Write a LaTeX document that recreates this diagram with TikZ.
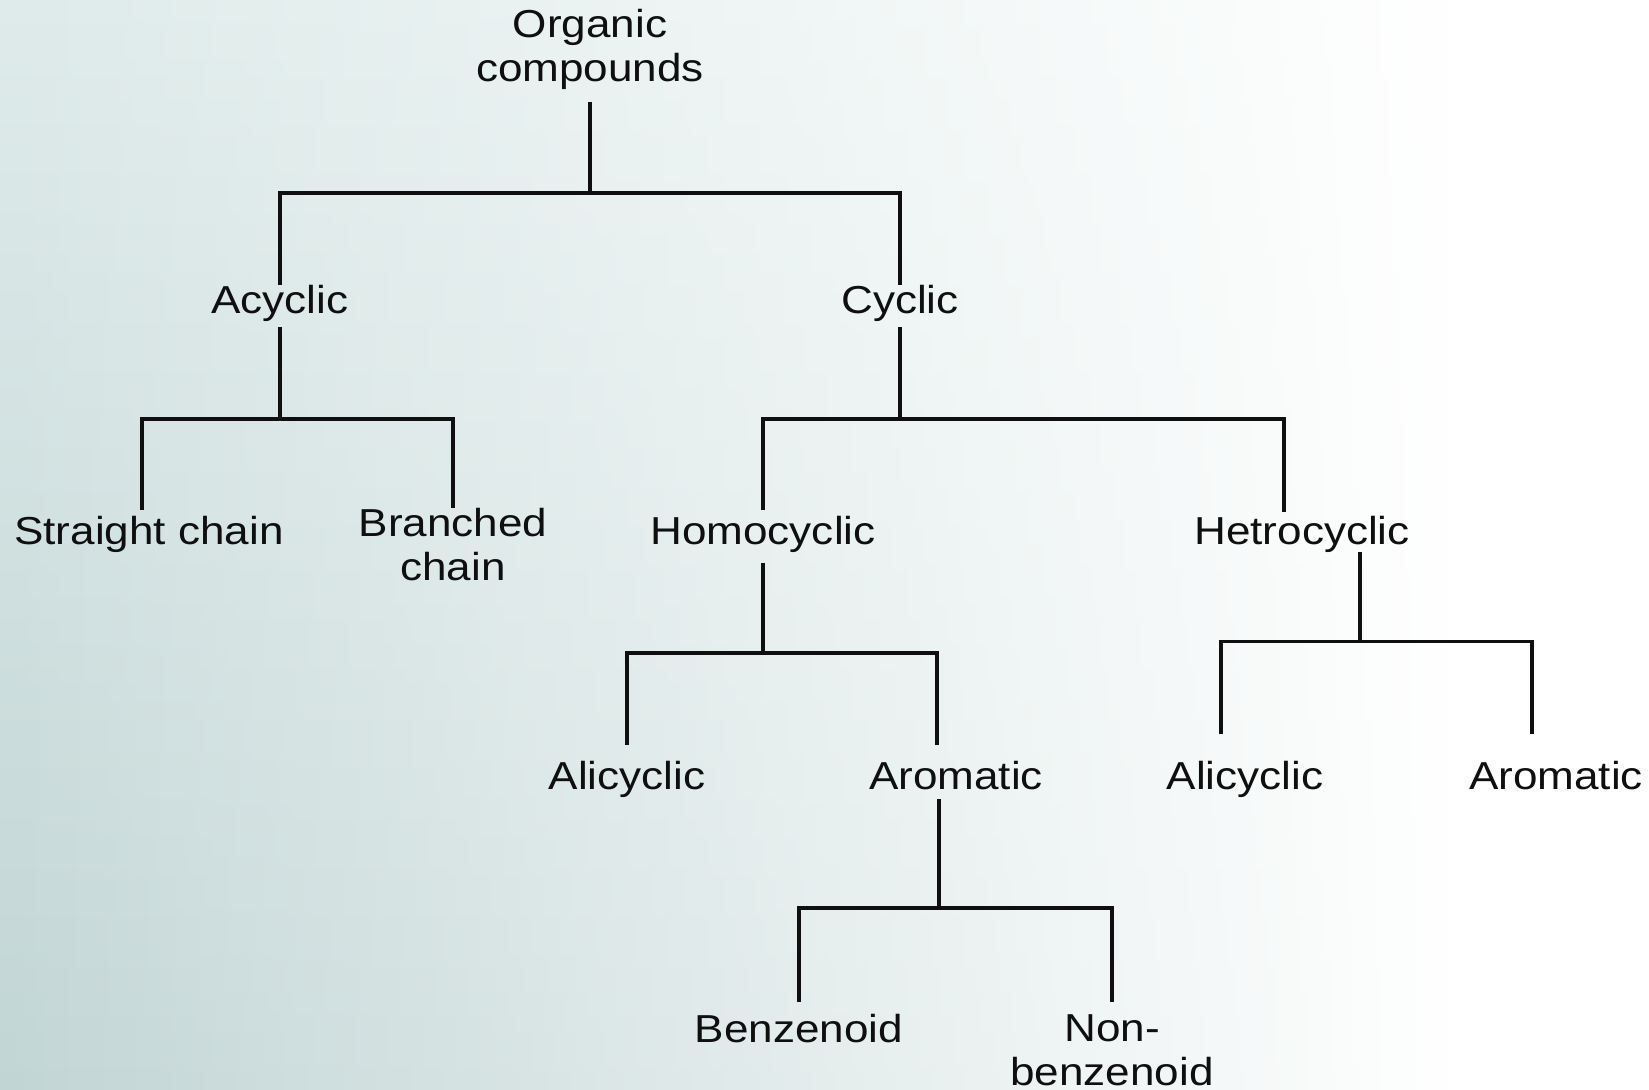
\documentclass[tikz,border=0pt]{standalone}
\usepackage{fontspec}
\setmainfont{Liberation Sans}[FakeStretch=1.13]
\usetikzlibrary{fadings}
\definecolor{bgtop}{RGB}{222,235,234}
\definecolor{bgbot}{RGB}{194,213,213}
\definecolor{ink}{RGB}{15,15,15}
\begin{document}
\begin{tikzpicture}[x=0.5pt,y=-0.5pt,
  lbl/.style={font=\fontsize{19.5}{22}\selectfont, text=ink, inner sep=0pt, anchor=base, align=center},
  edge/.style={draw=ink, line width=1.8pt}]
\useasboundingbox (0,0) rectangle (1649,1090);
\fill[white] (0,0) rectangle (1649,1090);
\shade[top color=bgtop, bottom color=bgbot, path fading=east] (0,0) rectangle (1450,1090);

\node[lbl] (root) at (590,82) {Organic\\compounds};
\node[lbl] (acyc) at (280,314) {Acyclic};
\node[lbl] (cyc) at (900,314) {Cyclic};
\node[lbl] (sc) at (149,545) {Straight chain};
\node[lbl] (branched) at (453,581) {Branched\\chain};
\node[lbl] (homo) at (763,545) {Homocyclic};
\node[lbl] (het) at (1302,545) {Hetrocyclic};
\node[lbl] (aliL) at (627,789) {Alicyclic};
\node[lbl] (aroL) at (956,789) {Aromatic};
\node[lbl] (aliR) at (1245,789) {Alicyclic};
\node[lbl] (aroR) at (1556,789) {Aromatic};
\node[lbl] (benz) at (799,1042) {Benzenoid};
\node[lbl] (nonb) at (1112,1085) {Non-\\benzenoid};

% root
\draw[edge] (root |- 0,102) -- (root |- 0,193) -| (acyc |- 0,285);
\draw[edge] (root |- 0,193) -| (cyc |- 0,285);
% acyclic
\draw[edge] (acyc |- 0,327) -- (acyc |- 0,419) -| (142,510);
\draw[edge] (acyc |- 0,419) -| (branched |- 0,508);
% cyclic
\draw[edge] (cyc |- 0,327) -- (cyc |- 0,419) -| (homo |- 0,510);
\draw[edge] (cyc |- 0,419) -| (1284,512);
% homocyclic
\draw[edge] (homo |- 0,563) -- (homo |- 0,653) -| (aliL |- 0,745);
\draw[edge] (homo |- 0,653) -| (937,745);
% aromatic
\draw[edge] (939,799) -- (939,908) -| (benz |- 0,1002);
\draw[edge] (939,908) -| (nonb |- 0,1002);
% hetrocyclic
\draw[edge] (1360,552) -- (1360,641.5) -| (1221,734);
\draw[edge] (1360,641.5) -| (1532,734);
\end{tikzpicture}
\end{document}
